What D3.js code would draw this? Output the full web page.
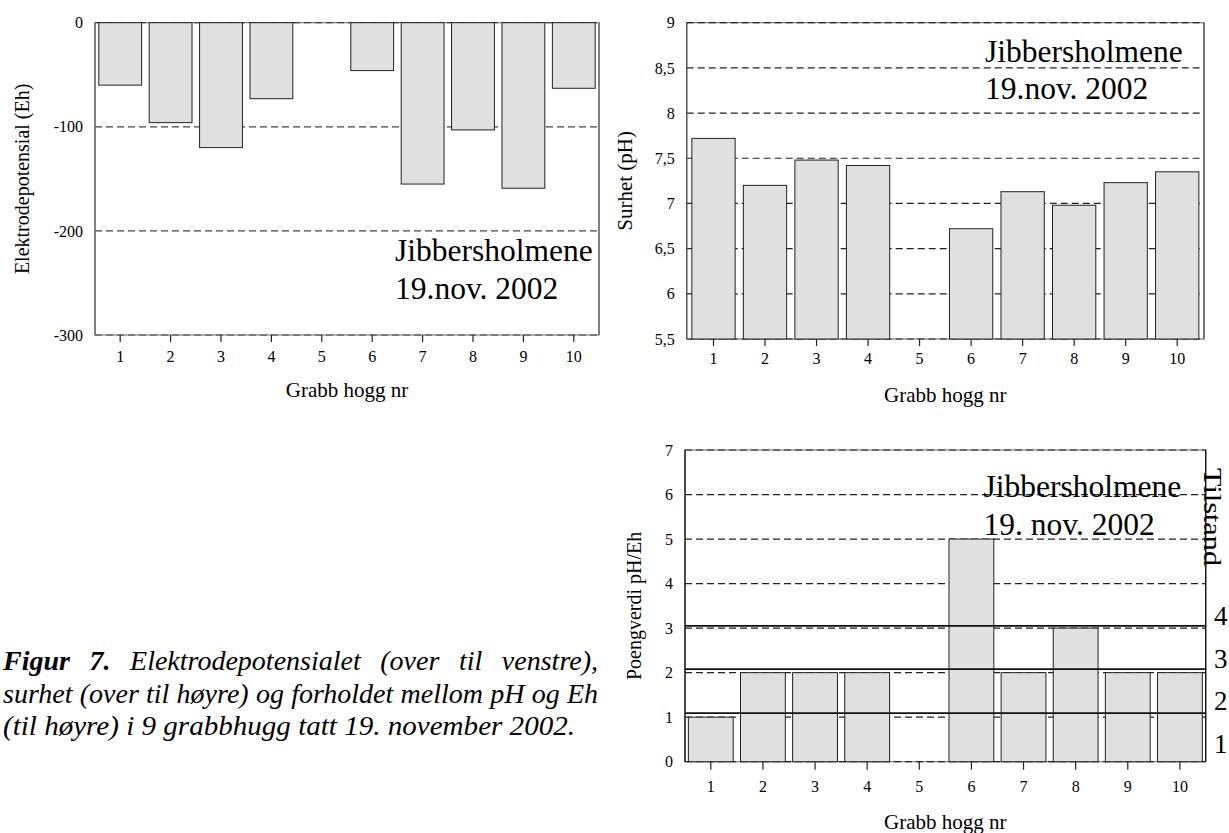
<!DOCTYPE html>
<html>
<head>
<meta charset="utf-8">
<script src="https://cdn.jsdelivr.net/npm/d3@7"></script>
<style>
  html, body { margin: 0; padding: 0; background: #fff; }
  svg { display: block; font-family: "Liberation Serif", "Times New Roman", serif; }
</style>
</head>
<body>
<svg id="fig" width="1229" height="833"></svg>
<script>
// Grab samples (Grabb hogg nr) and measured values; sample 5 has no measurement
const grabbNr = ["1", "2", "3", "4", "5", "6", "7", "8", "9", "10"];
const ehValues = [-60, -96, -120, -73, null, -46, -155, -103, -159, -63];
const phValues = [7.72, 7.20, 7.48, 7.42, null, 6.72, 7.13, 6.98, 7.23, 7.35];
const poengValues = [1, 2, 2, 2, null, 5, 2, 3, 2, 2];

// Axis ticks and their labels (Norwegian decimal comma)
const ehTicks = [0, -100, -200, -300];
const ehTickLabels = ["0", "-100", "-200", "-300"];
const phTicks = [5.5, 6, 6.5, 7, 7.5, 8, 8.5, 9];
const phTickLabels = ["5,5", "6", "6,5", "7", "7,5", "8", "8,5", "9"];
const poengTicks = [0, 1, 2, 3, 4, 5, 6, 7];
const poengTickLabels = ["0", "1", "2", "3", "4", "5", "6", "7"];

// Condition class (Tilstand) boundaries on the pH/Eh score axis, and class labels top-down
const tilstandGrenser = [1.09, 2.08, 3.05];
const tilstandKlasser = ["4", "3", "2", "1"];

// Texts
const xTitle = "Grabb hogg nr";
const ehTitle = "Elektrodepotensial (Eh)";
const phTitle = "Surhet (pH)";
const poengTitle = "Poengverdi pH/Eh";
const tilstandTitle = "Tilstand";
const stedLinjerA = ["Jibbersholmene", "19.nov. 2002"];
const stedLinjerC = ["Jibbersholmene", "19. nov. 2002"];
const captionLines = [
  [{t: "Figur", b: true}, {t: "7.", b: true}, {t: "Elektrodepotensialet"}, {t: "(over"}, {t: "til"}, {t: "venstre),"}],
  [{t: "surhet"}, {t: "(over"}, {t: "til"}, {t: "høyre)"}, {t: "og"}, {t: "forholdet"}, {t: "mellom"}, {t: "pH"}, {t: "og"}, {t: "Eh"}],
  [{t: "(til høyre) i 9 grabbhugg tatt 19. november 2002."}]
];

const svg = d3.select("#fig");

function barChart(opt) {
  const g = svg.append("g");
  const x = d3.scaleBand().domain(grabbNr)
    .range([opt.left, opt.right])
    .paddingInner(opt.pi).paddingOuter(opt.po);
  const y = d3.scaleLinear().domain(opt.domain).range([opt.top, opt.bottom]);

  // light solid frame underneath the dashed grid
  g.append("rect")
    .attr("x", opt.left).attr("y", opt.top)
    .attr("width", opt.right - opt.left).attr("height", opt.bottom - opt.top)
    .attr("fill", "none").attr("stroke", "#888").attr("stroke-width", 1.3);

  // dashed grid lines at every tick
  g.append("g").selectAll("line").data(opt.ticks).join("line")
    .attr("x1", opt.left).attr("x2", opt.right)
    .attr("y1", d => y(d)).attr("y2", d => y(d))
    .attr("stroke", opt.gridColor).attr("stroke-width", 1.2)
    .attr("stroke-dasharray", "7,4");

  // bars
  const rows = grabbNr.map((k, i) => ({k, v: opt.values[i]})).filter(d => d.v != null);
  g.append("g").selectAll("rect").data(rows).join("rect")
    .attr("x", d => x(d.k))
    .attr("width", x.bandwidth())
    .attr("y", d => Math.min(y(d.v), y(opt.base)))
    .attr("height", d => Math.abs(y(d.v) - y(opt.base)))
    .attr("fill", "#e0e0e0")
    .attr("stroke", "#222")
    .attr("stroke-width", 1);

  // left and right frame lines
  g.append("line").attr("x1", opt.left).attr("x2", opt.left)
    .attr("y1", opt.top).attr("y2", opt.bottom)
    .attr("stroke", opt.frameColor).attr("stroke-width", 1.3);
  g.append("line").attr("x1", opt.right).attr("x2", opt.right)
    .attr("y1", opt.top).attr("y2", opt.bottom)
    .attr("stroke", opt.frameColor).attr("stroke-width", 1.3);

  // y axis labels
  g.append("g")
    .attr("transform", `translate(${opt.left},0)`)
    .call(d3.axisLeft(y).tickValues(opt.ticks)
      .tickFormat((d, i) => opt.tickLabels[i])
      .tickSize(0).tickPadding(12))
    .call(a => a.select(".domain").remove())
    .call(a => a.selectAll("text").attr("font-size", 16).attr("fill", "#000")
      .attr("font-family", "Liberation Serif"));

  // x axis with ticks
  g.append("g")
    .attr("transform", `translate(0,${opt.bottom})`)
    .call(d3.axisBottom(x).tickSize(opt.tickLen).tickPadding(opt.tickPad))
    .call(a => a.select(".domain").remove())
    .call(a => a.selectAll("line").attr("stroke", "#222").attr("stroke-width", 1.2))
    .call(a => a.selectAll("text").attr("font-size", 16).attr("fill", "#000")
      .attr("font-family", "Liberation Serif"));

  // axis titles
  g.append("text")
    .attr("x", (opt.left + opt.right) / 2).attr("y", opt.xTitleY)
    .attr("text-anchor", "middle").attr("font-size", 21)
    .text(xTitle);
  g.append("text")
    .attr("transform", `translate(${opt.yTitleX},${(opt.top + opt.bottom) / 2}) rotate(-90)`)
    .attr("text-anchor", "middle").attr("font-size", opt.yTitleSize)
    .text(opt.yTitle);

  // location / date note
  g.append("g").selectAll("text").data(opt.note).join("text")
    .attr("x", opt.noteX)
    .attr("y", (d, i) => opt.noteY + i * opt.noteGap)
    .attr("font-size", 31.5)
    .text(d => d);

  return {g, x, y};
}

// Electrode potential (top left)
barChart({
  left: 95, right: 599, top: 22.7, bottom: 335,
  pi: 0.15, po: 0.075,
  domain: [0, -300], base: 0,
  values: ehValues, ticks: ehTicks, tickLabels: ehTickLabels,
  gridColor: "#444", frameColor: "#666",
  tickLen: 7, tickPad: 8.5,
  xTitleY: 397, yTitleX: 29, yTitle: ehTitle, yTitleSize: 20,
  note: stedLinjerA, noteX: 395, noteY: 261, noteGap: 38
});

// Acidity (top right)
barChart({
  left: 686.7, right: 1204, top: 22.7, bottom: 339,
  pi: 0.16, po: 0.1,
  domain: [9, 5.5], base: 5.5,
  values: phValues, ticks: phTicks, tickLabels: phTickLabels,
  gridColor: "#222", frameColor: "#555",
  tickLen: 7, tickPad: 7,
  xTitleY: 402, yTitleX: 632, yTitle: phTitle, yTitleSize: 21,
  note: stedLinjerA, noteX: 985, noteY: 62, noteGap: 37
});

// pH/Eh score (bottom right)
const c = barChart({
  left: 685, right: 1205.7, top: 450, bottom: 761.7,
  pi: 0.14, po: 0.065,
  domain: [7, 0], base: 0,
  values: poengValues, ticks: poengTicks, tickLabels: poengTickLabels,
  gridColor: "#222", frameColor: "#111",
  tickLen: 8, tickPad: 11,
  xTitleY: 829, yTitleX: 641, yTitle: poengTitle, yTitleSize: 20,
  note: stedLinjerC, noteX: 983.5, noteY: 497, noteGap: 38
});

// condition class boundaries drawn over the bars
c.g.append("g").selectAll("line").data(tilstandGrenser).join("line")
  .attr("x1", 685).attr("x2", 1205.7)
  .attr("y1", d => c.y(d)).attr("y2", d => c.y(d))
  .attr("stroke", "#111").attr("stroke-width", 1.6);

// class labels on the right
c.g.append("g").selectAll("text").data(tilstandKlasser).join("text")
  .attr("x", 1214)
  .attr("y", (d, i) => 625 + i * 42.7)
  .attr("font-size", 27)
  .text(d => d);
c.g.append("text")
  .attr("transform", "translate(1204,468) rotate(90)")
  .attr("font-size", 26)
  .attr("textLength", 98)
  .attr("lengthAdjust", "spacingAndGlyphs")
  .text(tilstandTitle);

// figure caption: first two lines justified, last line set to its printed width
const capLeft = 3, capRight = 598, capSize = 28, lastLineWidth = 572;
const capBaselines = [670, 702.5, 735];
captionLines.forEach((words, li) => {
  const texts = words.map(w => svg.append("text")
    .attr("y", capBaselines[li])
    .attr("font-size", capSize)
    .attr("font-style", "italic")
    .attr("font-weight", w.b ? "bold" : "normal")
    .text(w.t));
  if (words.length === 1) {
    texts[0].attr("x", capLeft)
      .attr("textLength", lastLineWidth)
      .attr("lengthAdjust", "spacingAndGlyphs");
    return;
  }
  const widths = texts.map(t => t.node().getComputedTextLength());
  const gap = (capRight - capLeft - d3.sum(widths)) / (words.length - 1);
  let xPos = capLeft;
  texts.forEach((t, i) => { t.attr("x", xPos); xPos += widths[i] + gap; });
});
</script>
</body>
</html>
